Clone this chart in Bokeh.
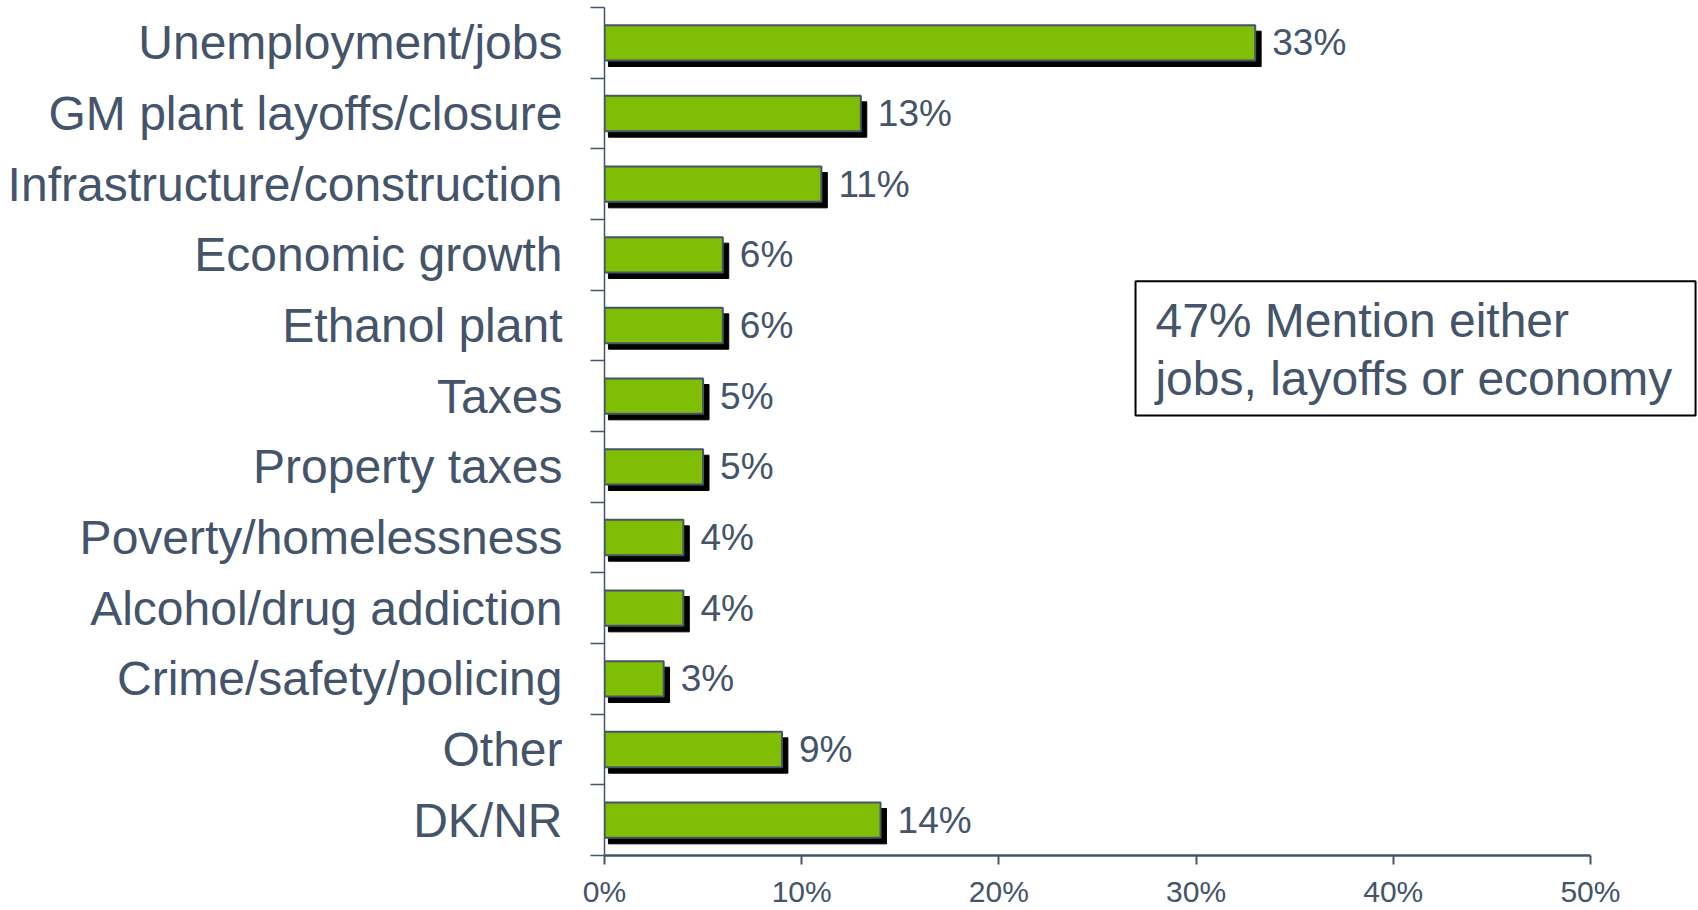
from bokeh.plotting import figure
from bokeh.models import FixedTicker, Range1d, BoxAnnotation, Label, ColumnDataSource
from bokeh.transform import dodge
from bokeh.core.properties import value
from bokeh.embed import file_html
from bokeh.resources import INLINE

categories = ["Unemployment/jobs", "GM plant layoffs/closure", "Infrastructure/construction",
              "Economic growth", "Ethanol plant", "Taxes", "Property taxes",
              "Poverty/homelessness", "Alcohol/drug addiction", "Crime/safety/policing",
              "Other", "DK/NR"]
values = [33, 13, 11, 6, 6, 5, 5, 4, 4, 3, 9, 14]
x_ticks = [0, 10, 20, 30, 40, 50]
x_tick_labels = ["0%", "10%", "20%", "30%", "40%", "50%"]
note_lines = ["47% Mention either", "jobs, layoffs or economy"]

TEXT = "#44546A"
GREEN = "#80BE06"
FONT = "Liberation Sans"

n = len(categories)
ypos = [n - 1 - i for i in range(n)]
src = ColumnDataSource(dict(y=ypos, value=values, label=[f"{v}%" for v in values]))

p = figure(width=1698, height=910, output_backend="svg", toolbar_location=None,
           x_range=Range1d(0, 55.48), y_range=Range1d(-0.5, n - 0.5),
           min_border_left=604, min_border_right=0, min_border_top=7, min_border_bottom=51)
p.outline_line_color = None
p.xgrid.grid_line_color = None
p.ygrid.grid_line_color = None

# shadow
p.hbar(y=dodge("y", -0.085), left=0.2, right=dodge("value", 0.3), height=0.5,
       source=src, fill_color="black", line_color="black")
# bars
p.hbar(y="y", left=0, right="value", height=0.5, source=src,
       fill_color=GREEN, line_color=TEXT, line_width=2)
# value labels
p.text(x="value", y="y", text="label", source=src, x_offset=17,
       text_font=value(FONT), text_font_size="37px", text_color=TEXT,
       text_align="left", text_baseline="middle")

# y axis
yax = p.yaxis[0]
yax.ticker = FixedTicker(ticks=ypos, minor_ticks=[k - 0.5 for k in range(n + 1)])
yax.major_label_overrides = {y: c for y, c in zip(ypos, categories)}
yax.major_tick_out = 0
yax.major_tick_in = 0
yax.major_tick_line_color = None
yax.minor_tick_out = 14
yax.minor_tick_in = 0
yax.minor_tick_line_color = TEXT
yax.minor_tick_line_width = 1.5
yax.axis_line_color = TEXT
yax.axis_line_width = 1.5
yax.major_label_standoff = 28
yax.major_label_text_font = FONT
yax.major_label_text_font_size = "48px"
yax.major_label_text_color = TEXT

# x axis
xax = p.xaxis[0]
xax.ticker = FixedTicker(ticks=x_ticks, minor_ticks=[])
xax.major_label_overrides = {t: l for t, l in zip(x_ticks, x_tick_labels)}
xax.bounds = (x_ticks[0], x_ticks[-1])
xax.major_tick_out = 9
xax.major_tick_in = 0
xax.major_tick_line_color = TEXT
xax.major_tick_line_width = 2
xax.minor_tick_line_color = None
xax.axis_line_color = TEXT
xax.axis_line_width = 2.5
xax.major_label_standoff = 10
xax.major_label_text_line_height = 0.8
xax.major_label_text_font = FONT
xax.major_label_text_font_size = "30px"
xax.major_label_text_color = TEXT

# note box
box = BoxAnnotation(left=26.93, right=55.33, top=7.627, bottom=5.725,
                    fill_color="white", fill_alpha=1.0,
                    line_color="black", line_alpha=1.0, line_width=2)
p.add_layout(box)
for txt, yb in zip(note_lines, [7.077, 6.246]):
    p.add_layout(Label(x=27.94, y=yb, text=txt, text_font=FONT, text_font_size="48px",
                       text_color=TEXT, text_align="left", text_baseline="alphabetic"))

open("out.html", "w").write(file_html(p, INLINE))
